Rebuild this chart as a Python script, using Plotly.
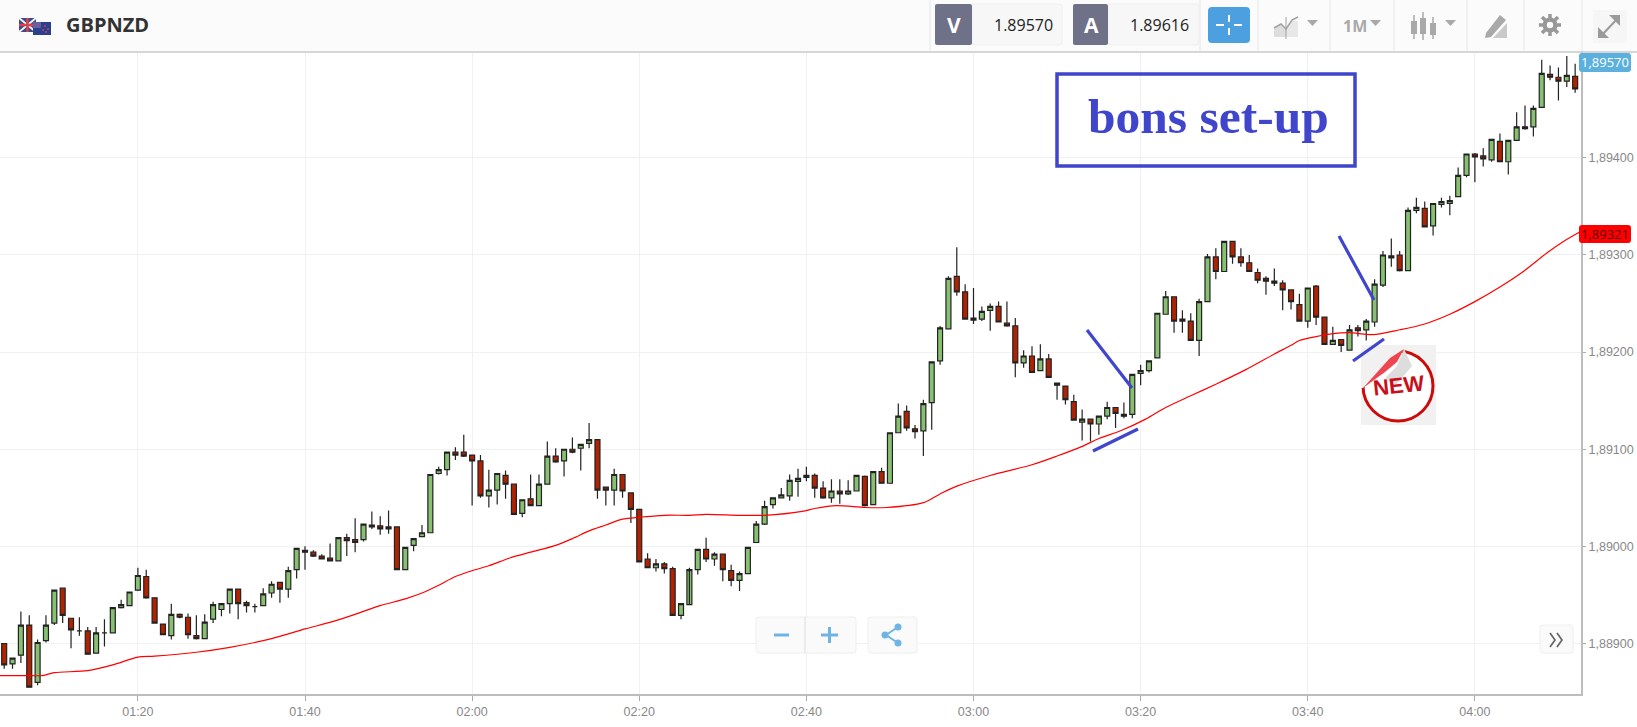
import pandas as pd
import plotly.graph_objects as go

# One minute GBPNZD candles, prices in 1/100000, first candle is 01:04
first_candle = "2020-01-01 01:04"

opens = [
    188900, 188879, 188888, 188919, 188860, 188903,
    188921, 188957, 188926, 188913, 188913, 188890, 188911, 188911, 188937, 188939,
    188955, 188969, 188947, 188920, 188908, 188930, 188927, 188908, 188905, 188925,
    188935, 188941, 188956, 188942, 188938, 188939, 188952, 188963, 188956, 188976,
    188996, 188994, 188990, 188988, 188985, 189009, 189007, 189007, 189022, 189021,
    189018, 189020, 188976, 189001, 189010, 189014, 189075, 189079, 189097, 189097,
    189094, 189088, 189052, 189058, 189073, 189064, 189034, 189049, 189042, 189064,
    189093, 189088, 189100, 189101, 189106, 189110, 189061, 189058, 189074, 189055,
    189038, 188987, 188978, 188982, 188977, 188929, 188940, 188976, 188997, 188987,
    188992, 188975, 188965, 188972, 189004, 189023, 189043, 189050, 189052, 189067,
    189071, 189073, 189060, 189050, 189057, 189054, 189057, 189072, 189043, 189077,
    189065, 189117, 189139, 189121, 189119, 189148, 189191, 189224, 189278, 189262,
    189235, 189234, 189243, 189247, 189230, 189227, 189189, 189196, 189181, 189193,
    189168, 189165, 189149, 189128, 189131, 189126, 189134, 189143, 189136, 189136,
    189178, 189181, 189194, 189239, 189257, 189234, 189232, 189212, 189252, 189298,
    189283, 189314, 189298, 189292, 189282, 189276, 189273, 189271, 189264, 189249,
    189232, 189268, 189236, 189208, 189213, 189202, 189225, 189223, 189231, 189269,
    189297, 189300, 189284, 189346, 189348, 189330, 189352, 189353, 189360, 189382,
    189404, 189402, 189398, 189417, 189396, 189418, 189432, 189432, 189452, 189486,
    189483, 189479, 189484,
]
highs = [
    188900, 188885, 188933, 188929, 188904, 188929,
    188955, 188957, 188926, 188927, 188917, 188917, 188925, 188937, 188945, 188953,
    188978, 188976, 188947, 188920, 188941, 188931, 188931, 188929, 188930, 188943,
    188941, 188956, 188956, 188944, 188941, 188957, 188964, 188963, 188979, 188998,
    189000, 188996, 188992, 189003, 189009, 189013, 189029, 189023, 189036, 189031,
    189037, 189020, 188999, 189008, 189022, 189074, 189082, 189097, 189102, 189115,
    189094, 189094, 189079, 189075, 189078, 189064, 189048, 189074, 189074, 189108,
    189101, 189100, 189112, 189105, 189127, 189110, 189061, 189080, 189074, 189055,
    189038, 188993, 188987, 188984, 188979, 188941, 188978, 188997, 189009, 188994,
    188992, 188981, 188974, 188999, 189026, 189047, 189050, 189060, 189074, 189080,
    189082, 189075, 189067, 189069, 189069, 189068, 189073, 189073, 189077, 189081,
    189117, 189147, 189145, 189125, 189151, 189190, 189227, 189278, 189308, 189270,
    189266, 189247, 189250, 189252, 189252, 189235, 189202, 189206, 189208, 189198,
    189168, 189165, 189156, 189141, 189131, 189134, 189149, 189143, 189148, 189177,
    189187, 189191, 189240, 189263, 189257, 189243, 189240, 189255, 189301, 189307,
    189314, 189314, 189307, 189300, 189286, 189278, 189286, 189274, 189264, 189260,
    189266, 189269, 189236, 189226, 189213, 189228, 189228, 189234, 189275, 189304,
    189317, 189304, 189349, 189359, 189355, 189353, 189359, 189361, 189390, 189404,
    189405, 189410, 189419, 189425, 189418, 189447, 189454, 189454, 189501, 189495,
    189493, 189505, 189497,
]
lows = [
    188874, 188874, 188880, 188855, 188857, 188901,
    188919, 188921, 188895, 188908, 188889, 188890, 188897, 188911, 188936, 188939,
    188954, 188946, 188921, 188909, 188904, 188926, 188905, 188904, 188905, 188921,
    188928, 188931, 188925, 188932, 188932, 188939, 188947, 188942, 188947, 188967,
    188976, 188989, 188987, 188985, 188985, 188990, 188994, 189005, 189018, 189012,
    189013, 188976, 188976, 188995, 189010, 189014, 189074, 189073, 189089, 189092,
    189042, 189050, 189040, 189043, 189049, 189033, 189030, 189042, 189042, 189064,
    189086, 189072, 189096, 189078, 189101, 189049, 189042, 189042, 189050, 189024,
    188984, 188978, 188974, 188972, 188929, 188925, 188976, 188971, 188984, 188980,
    188964, 188959, 188954, 188972, 189004, 189022, 189039, 189050, 189047, 189051,
    189067, 189050, 189049, 189045, 189044, 189053, 189057, 189041, 189043, 189065,
    189065, 189117, 189119, 189111, 189093, 189120, 189187, 189224, 189258, 189234,
    189229, 189232, 189222, 189231, 189226, 189174, 189184, 189179, 189181, 189174,
    189151, 189146, 189130, 189109, 189108, 189115, 189131, 189122, 189132, 189132,
    189166, 189179, 189194, 189239, 189220, 189220, 189212, 189196, 189252, 189275,
    189283, 189291, 189288, 189283, 189271, 189259, 189268, 189243, 189244, 189232,
    189225, 189228, 189208, 189208, 189200, 189202, 189216, 189212, 189226, 189267,
    189288, 189283, 189284, 189343, 189329, 189320, 189349, 189341, 189360, 189380,
    189375, 189391, 189396, 189396, 189383, 189418, 189429, 189422, 189452, 189480,
    189459, 189473, 189467,
]
closes = [
    188878, 188885, 188919, 188855, 188901, 188919,
    188955, 188929, 188914, 188913, 188889, 188911, 188911, 188937, 188940, 188953,
    188970, 188947, 188921, 188909, 188930, 188927, 188909, 188905, 188922, 188940,
    188941, 188956, 188941, 188939, 188938, 188951, 188961, 188956, 188975, 188998,
    188994, 188990, 188987, 188985, 189009, 189006, 189004, 189023, 189020, 189018,
    189020, 188976, 188999, 189008, 189014, 189074, 189079, 189097, 189094, 189093,
    189088, 189052, 189058, 189075, 189064, 189033, 189048, 189042, 189064, 189093,
    189087, 189100, 189097, 189105, 189110, 189058, 189058, 189074, 189057, 189038,
    188984, 188978, 188982, 188977, 188929, 188941, 188976, 188997, 188987, 188992,
    188976, 188965, 188972, 188999, 189023, 189041, 189050, 189053, 189068, 189070,
    189073, 189060, 189050, 189057, 189054, 189057, 189073, 189042, 189077, 189065,
    189117, 189134, 189122, 189118, 189147, 189190, 189225, 189276, 189262, 189234,
    189233, 189242, 189247, 189231, 189227, 189189, 189196, 189179, 189193, 189174,
    189166, 189151, 189130, 189131, 189126, 189134, 189143, 189137, 189134, 189177,
    189181, 189191, 189240, 189257, 189232, 189232, 189212, 189252, 189298, 189283,
    189314, 189298, 189292, 189283, 189274, 189273, 189271, 189264, 189252, 189232,
    189266, 189236, 189208, 189212, 189207, 189223, 189222, 189232, 189270, 189300,
    189299, 189284, 189346, 189349, 189329, 189353, 189355, 189356, 189382, 189404,
    189401, 189399, 189419, 189396, 189418, 189432, 189430, 189451, 189487, 189483,
    189479, 189485, 189471,
]

ema_times = [
    "01:03:30", "01:06:36", "01:08:36", "01:10:00", "01:14:00", "01:17:00", "01:20:00", "01:22:00",
    "01:27:00", "01:31:00", "01:36:00", "01:40:00", "01:43:30", "01:47:00", "01:49:00", "01:52:00",
    "01:54:00", "01:56:00", "01:58:00", "02:00:00", "02:02:00", "02:04:30", "02:07:00", "02:10:00",
    "02:12:00", "02:14:00", "02:16:00", "02:18:00", "02:20:00", "02:23:00", "02:26:00", "02:28:00",
    "02:32:00", "02:35:00", "02:39:30", "02:41:00", "02:43:36", "02:47:00", "02:49:36", "02:54:00",
    "02:56:00", "02:58:00", "03:02:00", "03:07:00", "03:10:00", "03:13:00", "03:15:00", "03:17:36",
    "03:20:36", "03:23:00", "03:26:00", "03:29:00", "03:32:36", "03:36:00", "03:38:00", "03:39:00",
    "03:41:00", "03:43:00", "03:45:00", "03:47:48", "03:51:00", "03:54:00", "03:57:00", "04:00:00",
    "04:03:00", "04:05:48", "04:08:36", "04:10:36", "04:12:36",
]
ema_values = [
    188867, 188867, 188867, 188870, 188872, 188878, 188886, 188887,
    188891, 188896, 188905, 188915, 188923, 188933, 188939, 188946,
    188952, 188960, 188969, 188975, 188980, 188988, 188994, 189001,
    189008, 189016, 189022, 189028, 189030, 189032, 189032, 189033,
    189032, 189032, 189036, 189039, 189042, 189040, 189040, 189045,
    189054, 189062, 189073, 189084, 189093, 189103, 189111, 189119,
    189131, 189143, 189155, 189167, 189182, 189198, 189207, 189212,
    189216, 189219, 189220, 189218, 189223, 189229, 189239, 189252,
    189267, 189283, 189302, 189314, 189324,
]

price_ticks = [1.88900, 1.89000, 1.89100, 1.89200, 1.89300, 1.89400]
pair_name = "GBPNZD"
bid_price = "1.89570"
ask_price = "1.89616"
last_label = "1,89570"
ema_label = "1,89321"
timeframe = "1M"
note_text = "bons set-up"

# Screen layout in pixels
W, H = 1637, 727
PLOT_R, PLOT_T, PLOT_B = 1581, 52, 694

GREEN = "#86C070"
RED = "#B12300"
BLUE = "#4046CC"
ICON = "#A9A9A9"

times = pd.date_range(first_candle, periods=len(closes), freq="min")
ema_x = ["2020-01-01 " + t for t in ema_times]


def px(x):
    return x / PLOT_R


def py(y):
    return (PLOT_B - y) / (PLOT_B - PLOT_T)


shapes = []
notes = []


def rect(x0, y0, x1, y1, fill, line=None, width=1):
    shapes.append(dict(type="rect", xref="paper", yref="paper", x0=px(x0), x1=px(x1), y0=py(y0), y1=py(y1),
                       fillcolor=fill, line=dict(color=line or fill, width=width if line else 0)))


def seg(x0, y0, x1, y1, color, width=1):
    shapes.append(dict(type="line", xref="paper", yref="paper", x0=px(x0), x1=px(x1), y0=py(y0), y1=py(y1),
                       line=dict(color=color, width=width)))


def circle(cx, cy, r, fill, line=None, width=1):
    shapes.append(dict(type="circle", xref="paper", yref="paper", x0=px(cx - r), x1=px(cx + r),
                       y0=py(cy - r), y1=py(cy + r), fillcolor=fill,
                       line=dict(color=line or fill, width=width if line else 0)))


def poly(points, fill=None, line=None, width=1, close=True):
    path = "M " + " L ".join(f"{px(a):.5f},{py(b):.5f}" for a, b in points)
    if close:
        path += " Z"
    shapes.append(dict(type="path", xref="paper", yref="paper", path=path,
                       fillcolor=fill or "rgba(0,0,0,0)",
                       line=dict(color=line or "rgba(0,0,0,0)", width=width if line else 0)))


def rounded(x0, y0, x1, y1, r, fill, line=None):
    path = (f"M {px(x0 + r):.5f},{py(y0):.5f} L {px(x1 - r):.5f},{py(y0):.5f} "
            f"Q {px(x1):.5f},{py(y0):.5f} {px(x1):.5f},{py(y0 + r):.5f} "
            f"L {px(x1):.5f},{py(y1 - r):.5f} Q {px(x1):.5f},{py(y1):.5f} {px(x1 - r):.5f},{py(y1):.5f} "
            f"L {px(x0 + r):.5f},{py(y1):.5f} Q {px(x0):.5f},{py(y1):.5f} {px(x0):.5f},{py(y1 - r):.5f} "
            f"L {px(x0):.5f},{py(y0 + r):.5f} Q {px(x0):.5f},{py(y0):.5f} {px(x0 + r):.5f},{py(y0):.5f} Z")
    shapes.append(dict(type="path", xref="paper", yref="paper", path=path, fillcolor=fill,
                       line=dict(color=line or fill, width=1 if line else 0)))


def label(x, y, text, size, color, family="Open Sans", bold=False, angle=0):
    notes.append(dict(xref="paper", yref="paper", x=px(x), y=py(y), text=f"<b>{text}</b>" if bold else text,
                      showarrow=False, xanchor="center", yanchor="middle", textangle=angle,
                      font=dict(size=size, color=color, family=family)))


# Top bar
rect(0, 0, W, 51, "#FBFBFB")
seg(0, 52, W, 52, "#C8C8C8", 1.5)
for x in [930, 1200, 1258, 1330, 1394, 1467, 1524, 1582]:
    seg(x, 0, x, 51, "#E6E6E6")

# Flags
rect(19, 18, 36, 32, "#3A4A8C")
seg(19, 18, 36, 32, "#F2F2F2", 2)
seg(36, 18, 19, 32, "#F2F2F2", 2)
seg(27.5, 18, 27.5, 32, "#D9434E", 2.5)
seg(19, 25, 36, 25, "#D9434E", 2.5)
rect(33, 22, 51, 35, "#2B3F8F")
rect(33, 22, 41, 28, "#6A5F9E")
for cx, cy in [(45, 26), (48, 29), (43, 30), (46, 32)]:
    circle(cx, cy, 0.9, "#D9434E")
label(107.5, 25, pair_name, 20, "#333333", bold=True)

# Bid and ask boxes
rounded(972, 4, 1062, 45, 3, "#F7F7F7", "#EFEFEF")
rounded(1108, 4, 1199, 45, 3, "#F7F7F7", "#EFEFEF")
rounded(935, 4, 972, 45, 2, "#6E7187")
rounded(1073, 4, 1108, 45, 2, "#6E7187")
label(954, 25, "V", 21, "#FFFFFF", bold=True)
label(1091, 25, "A", 21, "#FFFFFF", bold=True)
label(1023, 25, bid_price, 16, "#222222")
label(1159, 25, ask_price, 16, "#222222")

# Crosshair button
rounded(1208, 7, 1250, 43, 4, "#4DA0DF")
seg(1229, 15, 1229, 22, "#FFFFFF", 2)
seg(1229, 28, 1229, 35, "#FFFFFF", 2)
seg(1216, 25, 1224, 25, "#FFFFFF", 2)
seg(1234, 25, 1242, 25, "#FFFFFF", 2)

# Chart type, timeframe, candle, drawing, settings, fullscreen icons
poly([(1274, 37), (1274, 29), (1281, 25), (1286, 30), (1286, 37)], "#DDDDDD")
poly([(1286, 37), (1286, 30), (1292, 21), (1298, 21), (1298, 37)], "#E8E8E8")
poly([(1274, 28), (1281, 24), (1286, 29), (1292, 20), (1298, 17)], None, "#A0A0A0", 1.5, close=False)
seg(1286, 17, 1286, 39, "#A0A0A0", 1)
poly([(1307, 20), (1318, 20), (1312.5, 26)], ICON)
label(1355, 26, timeframe, 16, ICON, bold=True)
poly([(1370, 20), (1381, 20), (1375.5, 26)], ICON)
for x, top, bot, b0, b1 in [(1414, 15, 39, 21, 34), (1423, 12, 40, 18, 34), (1433, 17, 39, 23, 35)]:
    seg(x, top, x, bot, ICON, 1.5)
    rect(x - 3, b0, x + 3, b1, ICON)
poly([(1445, 20), (1456, 20), (1450.5, 26)], ICON)
poly([(1486, 33), (1500, 15), (1506, 20), (1491, 37), (1485, 38)], ICON)
poly([(1507, 23), (1507, 38), (1493, 38)], "#C9C9C9")
circle(1550, 25, 7.5, "#999999")
for a, b, c, d in [(1550, 14, 1550, 36), (1539, 25, 1561, 25), (1542, 17, 1558, 33), (1558, 17, 1542, 33)]:
    seg(a, b, c, d, "#999999", 3.5)
circle(1550, 25, 3.2, "#FBFBFB")
rect(1593, 10, 1627, 43, "#F6F6F6")
poly([(1602, 35), (1618, 18)], None, "#9A9A9A", 2, close=False)
poly([(1609, 15), (1620, 15), (1620, 26)], "#9A9A9A")
poly([(1598, 27), (1598, 38), (1609, 38)], "#9A9A9A")

# NEW sticker
rect(1361, 345, 1436, 425, "#F1F1F1")
circle(1398, 386, 35, "#FFFFFF", "#CC0A0A", 3)
poly([(1361, 345), (1405, 345), (1405, 349), (1363, 388), (1361, 388)], "#F1F1F1")
poly([(1385, 378), (1397, 366), (1404, 349), (1412, 366), (1395, 386)], "#DDDDDD")
poly([(1363, 388), (1385, 372), (1397, 362), (1404, 349), (1390, 358)], "#EE4650")
label(1399, 385, "NEW", 22, "#C8101A", family="Liberation Sans", bold=True, angle=-6)

# Note box and its lines
rect(1057, 74, 1355, 166, "rgba(0,0,0,0)", BLUE, 3.5)
label(1208, 117, note_text, 49.5, BLUE, family="Liberation Serif", bold=True)
seg(1087, 330, 1132, 388, BLUE, 3.2)
seg(1093, 451, 1138, 429, BLUE, 3.2)
seg(1339, 236, 1374, 300, BLUE, 3.2)
seg(1353, 361, 1384, 339, BLUE, 3.2)

# Zoom and share buttons
rounded(756, 617, 856, 653, 3, "#FAFAFA", "#EEEEEE")
seg(805, 617, 805, 653, "#DDDDDD")
seg(774, 635, 789, 635, "#6FB5E3", 3)
seg(821, 635, 838, 635, "#6FB5E3", 3)
seg(829.5, 627, 829.5, 643, "#6FB5E3", 3)
rounded(868, 617, 917, 653, 3, "#FAFAFA", "#EEEEEE")
seg(886, 635, 898, 627, "#6FB5E3", 2)
seg(886, 635, 898, 643, "#6FB5E3", 2)
for cx, cy in [(885, 635), (898, 627), (898, 643)]:
    circle(cx, cy, 3.5, "#6FB5E3")
rounded(1540, 625, 1573, 653, 3, "#FAFAFA", "#EEEEEE")
poly([(1550, 633), (1555, 640), (1550, 647)], None, "#666666", 1.7, close=False)
poly([(1557, 633), (1562, 640), (1557, 647)], None, "#666666", 1.7, close=False)

# Price tags on the right
rounded(1579, 53, 1631, 72, 3, "#5BB0DE")
label(1605, 62.5, last_label, 13, "#FFFFFF")
rounded(1579, 225, 1631, 243, 3, "#FF0000")
label(1605, 234, ema_label, 13, "#5A0000")

# Build the figure
fig = go.Figure()

fig.add_trace(go.Candlestick(
    x=times,
    open=[v / 100000 for v in opens],
    high=[v / 100000 for v in highs],
    low=[v / 100000 for v in lows],
    close=[v / 100000 for v in closes],
    whiskerwidth=0,
    increasing=dict(fillcolor=GREEN, line=dict(color="#222222", width=1.2)),
    decreasing=dict(fillcolor=RED, line=dict(color="#222222", width=1.2)),
    showlegend=False,
))

fig.add_trace(go.Scatter(
    x=ema_x,
    y=[v / 100000 for v in ema_values],
    mode="lines",
    line=dict(color="#FF0000", width=1.2, shape="spline", smoothing=0.8),
    showlegend=False,
))

fig.update_layout(
    width=W,
    height=H,
    margin=dict(l=0, r=W - PLOT_R, t=PLOT_T, b=H - PLOT_B),
    paper_bgcolor="white",
    plot_bgcolor="white",
    separators=",.",
    showlegend=False,
    hovermode=False,
    boxgap=0.15,
    shapes=shapes,
    annotations=notes,
    font=dict(family="Liberation Sans"),
    xaxis=dict(
        type="date",
        range=["2020-01-01 01:03:30", "2020-01-01 04:12:42"],
        tick0="2020-01-01 01:20",
        dtick=1200000,
        tickformat="%H:%M",
        rangeslider=dict(visible=False),
        showgrid=True,
        gridcolor="#F1F1F1",
        gridwidth=1,
        ticks="outside",
        ticklen=5,
        tickcolor="#AAAAAA",
        showline=True,
        linecolor="#BDBDBD",
        linewidth=2,
        tickfont=dict(size=12.5, color="#888888"),
    ),
    yaxis=dict(
        side="right",
        range=[1.88848, 1.89509],
        tickvals=price_ticks,
        tickformat=".5f",
        showgrid=True,
        gridcolor="#F1F1F1",
        gridwidth=1,
        zeroline=False,
        ticks="outside",
        ticklen=3,
        tickcolor="#AAAAAA",
        showline=True,
        linecolor="#BDBDBD",
        linewidth=2,
        tickfont=dict(size=12.5, color="#888888"),
    ),
)

fig.write_html("out.html", config=dict(displayModeBar=False),
               post_script="document.body.style.margin='0';")
